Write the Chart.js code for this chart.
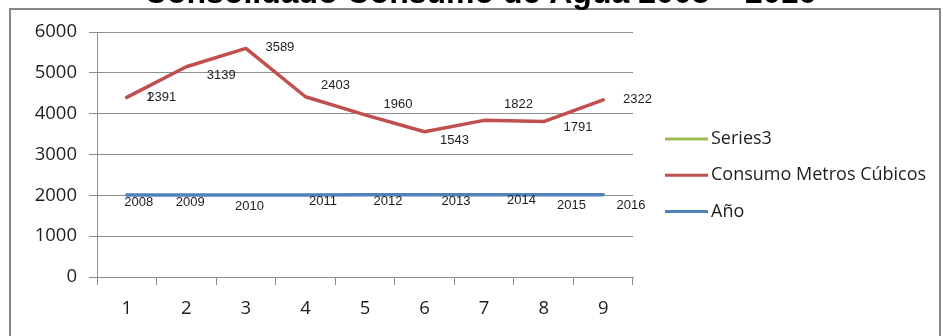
<!DOCTYPE html>
<html lang="es">
<head>
<meta charset="UTF-8">
<title>Consolidado Consumo de Agua 2008 – 2016</title>
<script src="https://cdn.jsdelivr.net/npm/chart.js"></script>
<style>
  html, body { margin: 0; padding: 0; background: #fff; }
  #wrap { position: relative; width: 943px; height: 336px; overflow: hidden; }
</style>
</head>
<body>
<div id="wrap">
  <canvas id="myChart" width="943" height="336"></canvas>
</div>

<script>
// chart data
const categories = ['1', '2', '3', '4', '5', '6', '7', '8', '9'];
const anio = [2008, 2009, 2010, 2011, 2012, 2013, 2014, 2015, 2016];
const consumo = [2391, 3139, 3589, 2403, 1960, 1543, 1822, 1791, 2322];
const series3 = [1, null, null, null, null, null, null, null, null];
const yTicks = [0, 1000, 2000, 3000, 4000, 5000, 6000];

// where each value label sits relative to its point (px)
const anioLabelShift = [[12, 7.5], [4, 7], [3.6, 11], [17.5, 6.5], [23, 6.5], [31.4, 6.5], [37.4, 6], [27.8, 11], [27.7, 11]];
const consumoLabelShift = [[35, 0.5], [35, 8.5], [34, -1], [30, -11], [33, -10], [30, 9], [34.4, -15.6], [34.3, 5.7], [34.2, 0]];
const series3LabelShift = [[23, 0.5]];

const gridGray = '#8e8e8e';
const textColor = '#1e1e1e';
const tickFont = { family: '"Open Sans", sans-serif', size: 18.5 };

// title, frame, legend and value labels
const decorations = {
    id: 'decorations',
    beforeDraw(chart) {
        const ctx = chart.ctx;
        ctx.save();
        ctx.strokeStyle = '#878787';
        ctx.lineWidth = 2;
        ctx.strokeRect(10, 9, 930, 340);
        ctx.fillStyle = '#000';
        ctx.font = 'bold 32px "Liberation Sans", Arial, sans-serif';
        ctx.textAlign = 'center';
        ctx.textBaseline = 'alphabetic';
        ctx.fillText('Consolidado Consumo de Agua 2008 – 2016', 480, 3);
        ctx.restore();
    },
    afterDatasetsDraw(chart) {
        const ctx = chart.ctx;
        ctx.save();
        ctx.font = '13px "Liberation Sans", Arial, sans-serif';
        ctx.fillStyle = textColor;
        ctx.textAlign = 'center';
        ctx.textBaseline = 'middle';
        chart.data.datasets.forEach((ds, i) => {
            const meta = chart.getDatasetMeta(i);
            meta.data.forEach((pt, j) => {
                const v = ds.data[j];
                if (v === null || v === undefined) return;
                const shift = ds.labelShift[j] || [0, 0];
                ctx.fillText(String(v), pt.x + shift[0], pt.y + shift[1]);
            });
        });

        // legend, last series on top
        ctx.font = '18px "Open Sans", sans-serif';
        ctx.textAlign = 'left';
        const items = chart.data.datasets.slice().reverse();
        items.forEach((ds, k) => {
            const y = 139 + k * 36.3;
            ctx.strokeStyle = ds.borderColor;
            ctx.lineWidth = 3;
            ctx.beginPath();
            ctx.moveTo(665, y);
            ctx.lineTo(708, y);
            ctx.stroke();
            ctx.fillStyle = textColor;
            ctx.fillText(ds.label, 711, y);
        });
        ctx.restore();
    }
};

const ctx = document.getElementById('myChart').getContext('2d');
const myChart = new Chart(ctx, {
    type: 'line',
    data: {
        labels: categories,
        datasets: [{
            label: 'Año',
            data: anio,
            borderColor: '#4f81bd',
            backgroundColor: '#4f81bd',
            borderWidth: 3.5,
            labelShift: anioLabelShift
        }, {
            label: 'Consumo Metros Cúbicos',
            data: consumo,
            borderColor: '#c0504d',
            backgroundColor: '#c0504d',
            borderWidth: 3.5,
            labelShift: consumoLabelShift
        }, {
            label: 'Series3',
            data: series3,
            borderColor: '#9bbb59',
            backgroundColor: '#9bbb59',
            borderWidth: 3.5,
            labelShift: series3LabelShift
        }]
    },
    options: {
        responsive: false,
        animation: false,
        layout: { padding: { left: 0, right: 310, top: 32, bottom: 0 } },
        elements: {
            point: { radius: 0, hoverRadius: 0 },
            line: { tension: 0, borderCapStyle: 'round', borderJoinStyle: 'round' }
        },
        plugins: {
            legend: { display: false },
            title: { display: false },
            tooltip: { enabled: false }
        },
        scales: {
            x: {
                offset: true,
                grid: { offset: true, drawOnChartArea: false, drawTicks: true, tickLength: 8, color: gridGray },
                border: { color: gridGray },
                ticks: { font: tickFont, color: textColor, padding: 13, maxRotation: 0 },
                afterFit(scale) { scale.height = 59; }
            },
            y: {
                stacked: true,
                min: 0,
                max: 6000,
                afterBuildTicks(scale) { scale.ticks = yTicks.map(v => ({ value: v })); },
                grid: { color: gridGray, tickLength: 8 },
                border: { color: gridGray },
                ticks: { font: tickFont, color: textColor, padding: 12, callback: v => String(v) },
                afterFit(scale) { scale.width = 97; }
            }
        }
    },
    plugins: [decorations]
});
</script>
</body>
</html>
